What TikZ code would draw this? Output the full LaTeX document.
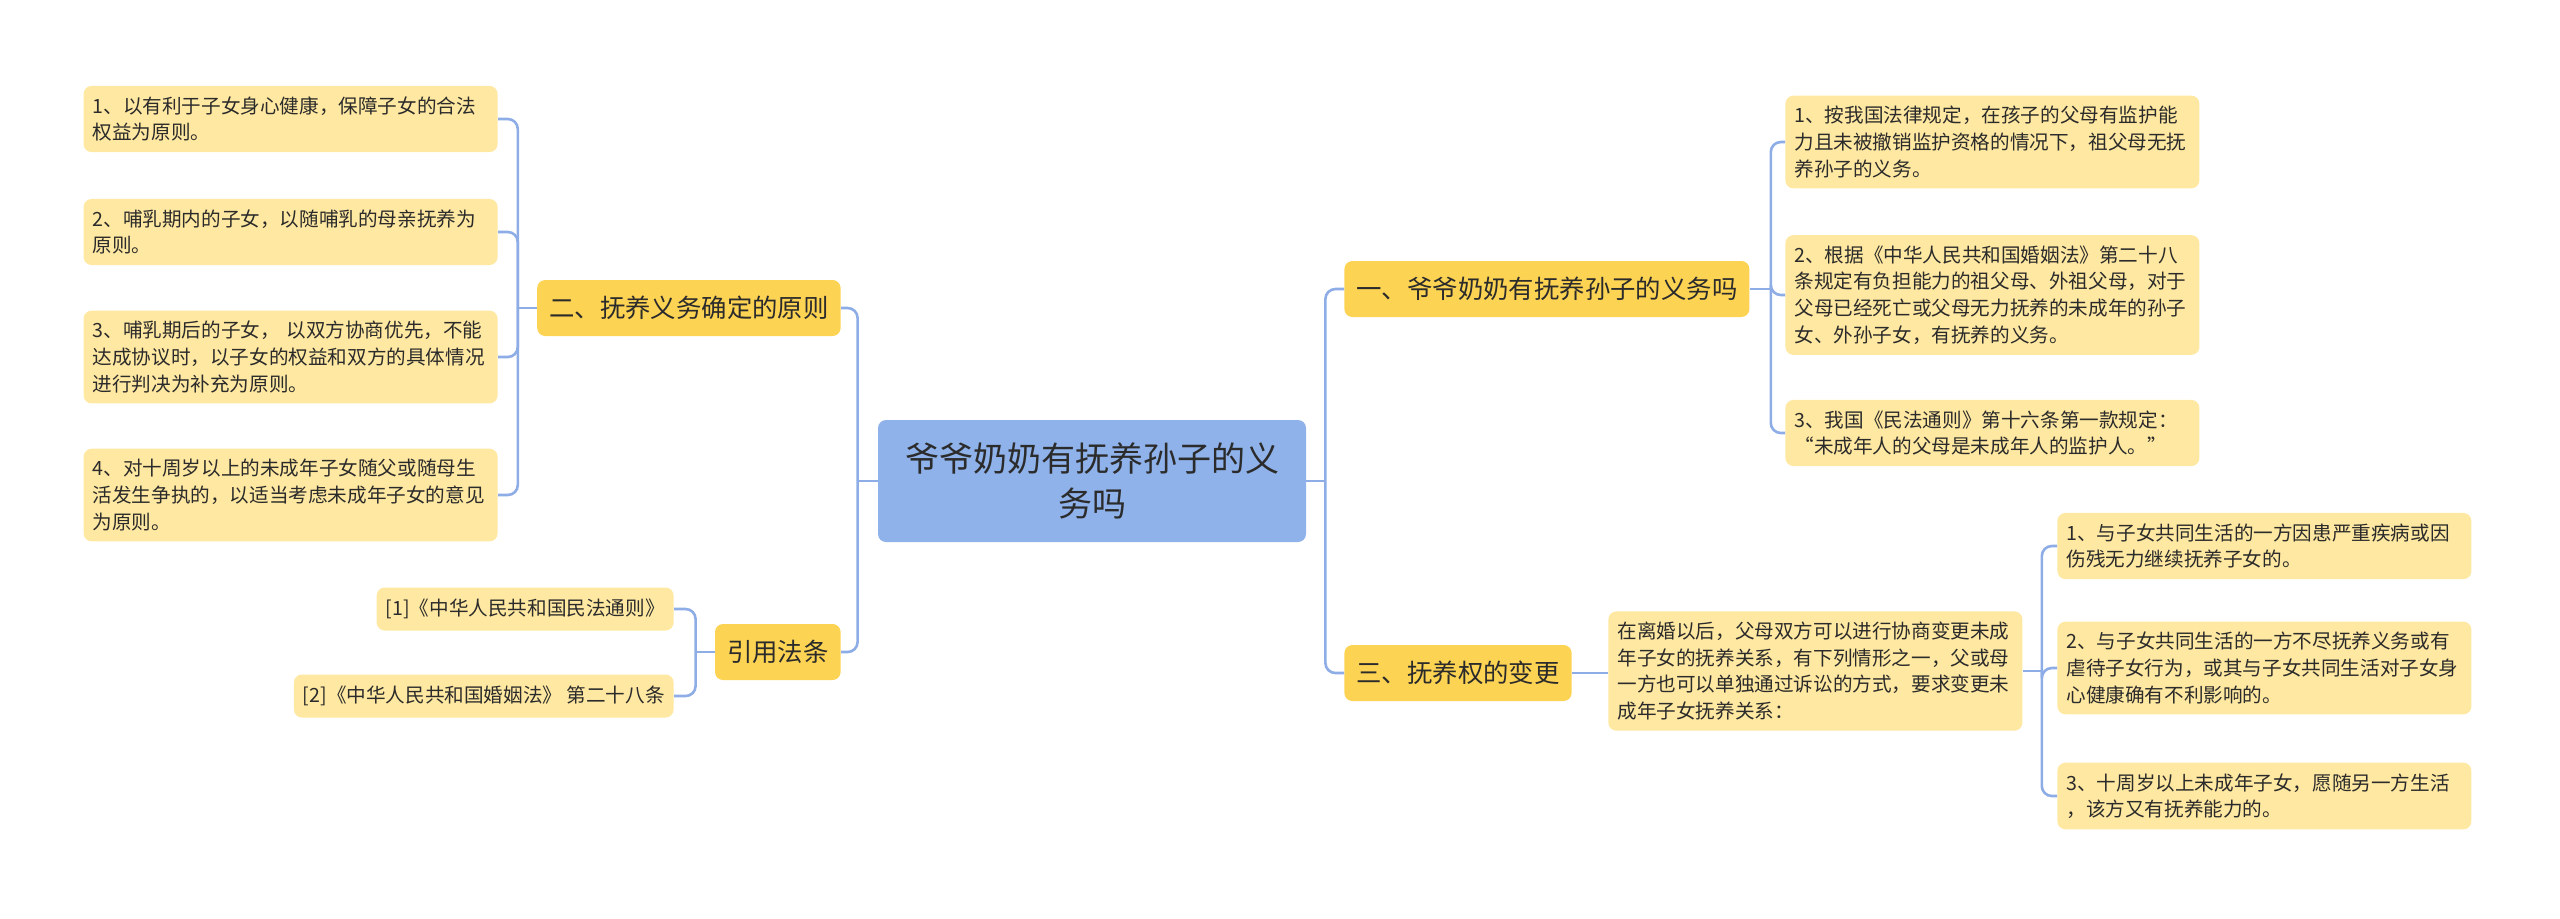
\documentclass[tikz,border=0pt]{standalone}
\usepackage{fontspec}
\setmainfont{Noto Sans CJK SC}
\usepackage{xcolor}
\usepackage{tikz}
\usetikzlibrary{positioning, calc}

\definecolor{rootblue}{HTML}{8FB2EA}
\definecolor{branchyellow}{HTML}{FDD353}
\definecolor{leafyellow}{HTML}{FFE8A1}
\definecolor{linkblue}{HTML}{8EADE6}
\definecolor{textgray}{HTML}{2B2B2B}

\begin{document}
\begin{tikzpicture}[x=0.5pt, y=-0.5pt,
		root/.style={rectangle, fill=rootblue, rounded corners=4pt, minimum width=214pt, minimum height=61pt, align=center, text=textgray, font=\fontsize{17}{22.5}\selectfont},
		branch/.style={rectangle, fill=branchyellow, rounded corners=4pt, inner xsep=6pt, minimum height=28pt, text=textgray, font=\fontsize{12.7}{15}\selectfont},
		leaf/.style={rectangle, fill=leafyellow, rounded corners=4pt, inner xsep=4.5pt, inner ysep=5.3pt, text width=198pt, align=left, text=textgray, font=\fontsize{9.8}{13.3}\selectfont},
		ref/.style={rectangle, fill=leafyellow, rounded corners=4pt, inner xsep=4.5pt, minimum height=21.5pt, text=textgray, font=\fontsize{9.8}{13.3}\selectfont},
		link/.style={draw=linkblue, line width=1.3pt, rounded corners=5pt},
		]
		\useasboundingbox (0,0) rectangle (2560,918);
		
		% ---- centre ----
		\node[root] (root) at (1092,481) {爷爷奶奶有抚养孙子的义\\务吗};
		\coordinate (jL) at ($(root.west)+(-20,0)$);
		\coordinate (jR) at ($(root.east)+(19,0)$);
		
		% ---- left: principles ----
		\node[branch, anchor=east] (b2) at (841,308) {二、抚养义务确定的原则};
		\node[leaf, anchor=east] (l1) at (498,119) {1、以有利于子女身心健康，保障子女的合法\\权益为原则。};
		\node[leaf, anchor=east] (l2) at (498,232) {2、哺乳期内的子女，以随哺乳的母亲抚养为\\原则。};
		\node[leaf, anchor=east] (l3) at (498,357) {3、哺乳期后的子女， 以双方协商优先，不能\\达成协议时，以子女的权益和双方的具体情况\\进行判决为补充为原则。};
		\node[leaf, anchor=east] (l4) at (498,495) {4、对十周岁以上的未成年子女随父或随母生\\活发生争执的，以适当考虑未成年子女的意见\\为原则。};
		\coordinate (j2) at ($(b2.west)+(-19,0)$);
		\draw[link] (b2.west) -- (j2);
		\foreach \n in {l1,l2,l3,l4}
			\draw[link] (\n.east) -| (j2);
		
		% ---- left: cited laws ----
		\node[branch, anchor=east] (bref) at (841,652) {引用法条};
		\node[ref, anchor=east] (r1) at (674,609) {[1]《中华人民共和国民法通则》};
		\node[ref, anchor=east] (r2) at (674,696) {[2]《中华人民共和国婚姻法》 第二十八条};
		\coordinate (jref) at ($(bref.west)+(-19,0)$);
		\draw[link] (bref.west) -- (jref);
		\draw[link] (r1.east) -| (jref);
		\draw[link] (r2.east) -| (jref);
		
		\draw[link] (root.west) -- (jL);
		\draw[link] (b2.east) -| (jL);
		\draw[link] (bref.east) -| (jL);
		
		% ---- right: duty ----
		\node[branch, anchor=west] (b1) at (1344,289) {一、爷爷奶奶有抚养孙子的义务吗};
		\node[leaf, anchor=west] (a1) at (1785,142) {1、按我国法律规定，在孩子的父母有监护能\\力且未被撤销监护资格的情况下，祖父母无抚\\养孙子的义务。};
		\node[leaf, anchor=west] (a2) at (1785,295) {2、根据《中华人民共和国婚姻法》第二十八\\条规定有负担能力的祖父母、外祖父母，对于\\父母已经死亡或父母无力抚养的未成年的孙子\\女、外孙子女，有抚养的义务。};
		\node[leaf, anchor=west] (a3) at (1785,433) {3、我国《民法通则》第十六条第一款规定：\\“未成年人的父母是未成年人的监护人。”};
		\coordinate (j1) at ($(b1.east)+(21,0)$);
		\draw[link] (b1.east) -- (j1);
		\foreach \n in {a1,a2,a3}
			\draw[link] (\n.west) -| (j1);
		
		% ---- right: change of custody ----
		\node[branch, anchor=west] (b3) at (1344,673) {三、抚养权的变更};
		\node[leaf, anchor=west] (mid) at (1608,671) {在离婚以后，父母双方可以进行协商变更未成\\年子女的抚养关系，有下列情形之一，父或母\\一方也可以单独通过诉讼的方式，要求变更未\\成年子女抚养关系：};
		\node[leaf, anchor=west] (c1) at (2057,546) {1、与子女共同生活的一方因患严重疾病或因\\伤残无力继续抚养子女的。};
		\node[leaf, anchor=west] (c2) at (2057,668) {2、与子女共同生活的一方不尽抚养义务或有\\虐待子女行为，或其与子女共同生活对子女身\\心健康确有不利影响的。};
		\node[leaf, anchor=west] (c3) at (2057,796) {3、十周岁以上未成年子女，愿随另一方生活\\，该方又有抚养能力的。};
		\draw[link] (b3.east) -- (b3.east -| mid.west);
		\coordinate (jm) at ($(mid.east)+(19,0)$);
		\draw[link] (mid.east) -- (jm);
		\foreach \n in {c1,c2,c3}
			\draw[link] (\n.west) -| (jm);
		
		\draw[link] (root.east) -- (jR);
		\draw[link] (b1.west) -| (jR);
		\draw[link] (b3.west) -| (jR);
		
	\end{tikzpicture}
\end{document}
